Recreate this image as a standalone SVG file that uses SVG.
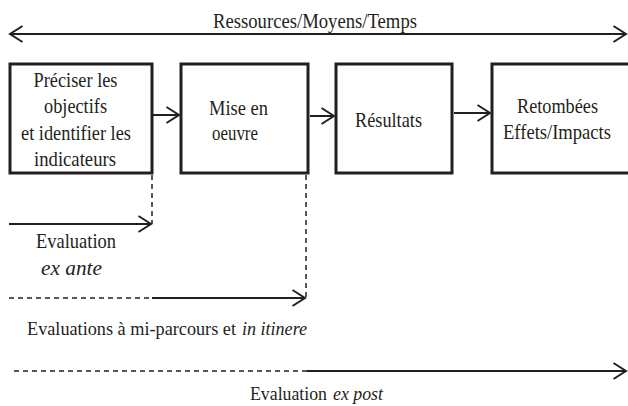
<svg xmlns="http://www.w3.org/2000/svg" width="628" height="406" viewBox="0 0 628 406">
<defs>
<style>
text{font-family:"Liberation Serif","Times New Roman",serif;font-size:21px;fill:#231f20;text-anchor:middle}
.st{text-anchor:start;font-size:18.5px}
.it{font-style:italic}
.box{fill:#fff;stroke:#231f20;stroke-width:3}
.ln{stroke:#231f20;stroke-width:2;fill:none}
.dash{stroke:#231f20;stroke-width:1.5;fill:none;stroke-dasharray:5 4}
</style>
<marker id="ah" markerUnits="userSpaceOnUse" markerWidth="16" markerHeight="20" viewBox="0 0 16 20" refX="14" refY="10" orient="auto-start-reverse">
<path d="M1.5,2 L14,10 L1.5,18" fill="none" stroke="#231f20" stroke-width="2"/>
</marker>
</defs>
<rect width="628" height="406" fill="#fff"/>
<g id="top">
<text x="315" y="28" textLength="204" lengthAdjust="spacingAndGlyphs">Ressources/Moyens/Temps</text>
</g>
<g id="node1">
<rect class="box" x="10" y="64" width="142" height="109"/>
<text x="75.5" y="87" textLength="84" lengthAdjust="spacingAndGlyphs">Préciser les</text>
<text x="75.5" y="113" textLength="63" lengthAdjust="spacingAndGlyphs">objectifs</text>
<text x="76" y="140" textLength="110" lengthAdjust="spacingAndGlyphs">et identifier les</text>
<text x="75" y="166" textLength="82" lengthAdjust="spacingAndGlyphs">indicateurs</text>
</g>
<g id="node2">
<rect class="box" x="181" y="64" width="127" height="109"/>
<text x="238.5" y="115" textLength="59" lengthAdjust="spacingAndGlyphs">Mise en</text>
<text x="235" y="140" textLength="46" lengthAdjust="spacingAndGlyphs">oeuvre</text>
</g>
<g id="node3">
<rect class="box" x="336" y="64" width="116" height="109"/>
<text x="388.5" y="127" textLength="67" lengthAdjust="spacingAndGlyphs">Résultats</text>
</g>
<g id="node4">
<rect class="box" x="492" y="64" width="150" height="109"/>
<text x="557.5" y="113" textLength="81" lengthAdjust="spacingAndGlyphs">Retombées</text>
<text x="557" y="139" textLength="108" lengthAdjust="spacingAndGlyphs">Effets/Impacts</text>
</g>
<g id="connectors">
<line class="ln" x1="10" y1="34" x2="626" y2="34" marker-start="url(#ah)" marker-end="url(#ah)"/>
<line class="ln" x1="153" y1="115" x2="179" y2="115" marker-end="url(#ah)"/>
<line class="ln" x1="310" y1="116" x2="334" y2="116" marker-end="url(#ah)"/>
<line class="ln" x1="454" y1="113" x2="490" y2="113" marker-end="url(#ah)"/>
<line class="dash" x1="152" y1="175" x2="152" y2="224"/>
<line class="dash" x1="306" y1="175" x2="306" y2="298"/>
<line class="ln" x1="9" y1="224" x2="151" y2="224" marker-end="url(#ah)"/>
<line class="dash" x1="9" y1="298" x2="152" y2="298"/>
<line class="ln" x1="152" y1="298" x2="305" y2="298" marker-end="url(#ah)"/>
<line class="dash" x1="14" y1="371" x2="307" y2="371"/>
<line class="ln" x1="307" y1="371" x2="626" y2="371" marker-end="url(#ah)"/>
</g>
<g id="labels">
<text x="76" y="248" textLength="80" lengthAdjust="spacingAndGlyphs">Evaluation</text>
<text class="it" x="71.5" y="275" textLength="61" lengthAdjust="spacingAndGlyphs">ex ante</text>
<text class="st" x="27" y="335" textLength="209" lengthAdjust="spacingAndGlyphs">Evaluations à mi-parcours et</text>
<text class="st it" x="242" y="335" textLength="65" lengthAdjust="spacingAndGlyphs">in itinere</text>
<text class="st" x="250" y="400" textLength="77" lengthAdjust="spacingAndGlyphs">Evaluation</text>
<text class="st it" x="333" y="400" textLength="50" lengthAdjust="spacingAndGlyphs">ex post</text>
</g>
</svg>
